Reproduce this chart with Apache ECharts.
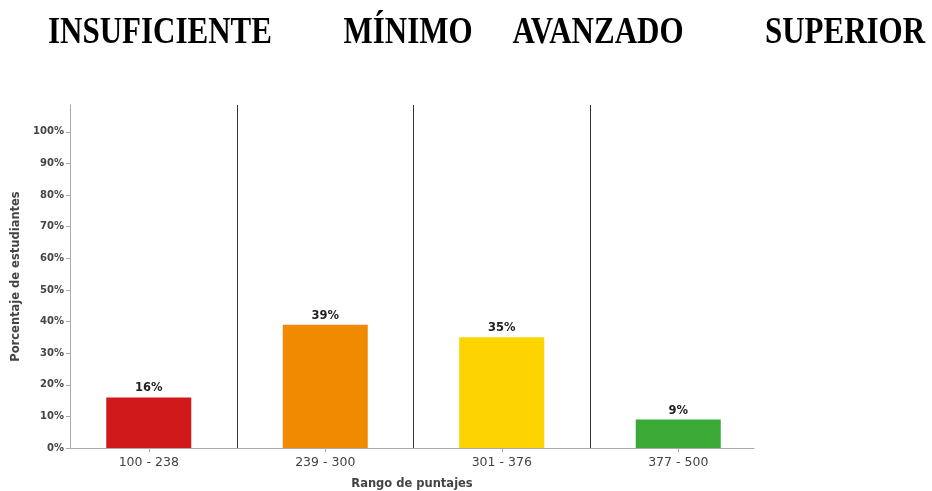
<!DOCTYPE html>
<html>
<head>
<meta charset="utf-8">
<script src="https://cdn.jsdelivr.net/npm/echarts@6/dist/echarts.min.js"></script>
<style>
  html, body { margin: 0; padding: 0; background: #fff; }
  #main { width: 932px; height: 491px; }
</style>
</head>
<body>
<div id="main"></div>
<script>
// niveles y rangos de puntaje
var niveles = ['INSUFICIENTE', 'MÍNIMO', 'AVANZADO', 'SUPERIOR'];
var rangos = ['100 - 238', '239 - 300', '301 - 376', '377 - 500'];
var porcentajes = [16, 39, 35, 9];
var colores = ['#d0191b', '#f08a00', '#fdd300', '#3aa935'];
var marcasY = [0, 10, 20, 30, 40, 50, 60, 70, 80, 90, 100];

var nivelX = [160, 408, 598, 845];

var myChart = echarts.init(document.getElementById('main'));

var titulos = niveles.map(function (t, i) {
    return {
        type: 'text',
        x: nivelX[i],
        y: 33,
        scaleY: 1.25,
        style: {
            text: t,
            font: 'bold 31px "Liberation Serif", "Times New Roman", serif',
            fill: '#000',
            textAlign: 'center',
            textVerticalAlign: 'middle'
        }
    };
});

myChart.setOption({
    animation: false,
    graphic: titulos,
    grid: [
        { left: 60.5, right: 165.5, top: 105, bottom: 43, outerBoundsMode: 'none', containLabel: false },
        { left: 70, right: 178, top: 105, bottom: 43, outerBoundsMode: 'none', containLabel: false }
    ],
    xAxis: [
        {
            type: 'category',
            gridIndex: 0,
            data: rangos,
            axisLine: { show: false },
            axisTick: { show: true, alignWithLabel: true, length: 4, lineStyle: { color: '#aaa' } },
            axisLabel: { color: '#444', fontSize: 12.5, fontFamily: 'DejaVu Sans', margin: 8 },
            splitLine: { show: true, showMinLine: false, showMaxLine: false, lineStyle: { color: '#333', width: 1 } }
        },
        {
            type: 'value',
            gridIndex: 1,
            min: 0, max: 1,
            axisLine: { show: true, lineStyle: { color: '#aaa' } },
            axisTick: { show: false },
            axisLabel: { show: false },
            splitLine: { show: false },
            name: 'Rango de puntajes',
            nameLocation: 'middle',
            nameGap: 30,
            nameTextStyle: { color: '#444', fontSize: 11.5, fontFamily: 'DejaVu Sans', fontWeight: 'bold' }
        }
    ],
    yAxis: [
        {
            type: 'value',
            gridIndex: 0,
            min: 0, max: 108.5,
            show: false
        },
        {
            type: 'value',
            gridIndex: 1,
            min: 0, max: 108.5,
            interval: 10,
            axisLine: { show: true, lineStyle: { color: '#aaa' } },
            axisTick: { show: true, length: 4, customValues: marcasY, lineStyle: { color: '#aaa' } },
            axisLabel: {
                customValues: marcasY,
                color: '#444', fontSize: 10, fontFamily: 'DejaVu Sans', fontWeight: 'bold', margin: 6,
                formatter: function (v) { return v <= 100 ? v + '%' : ''; }
            },
            splitLine: { show: false },
            name: 'Porcentaje de estudiantes',
            nameLocation: 'middle',
            nameGap: 45,
            nameTextStyle: { color: '#444', fontSize: 11.5, fontFamily: 'DejaVu Sans', fontWeight: 'bold' }
        }
    ],
    series: [
        {
            type: 'bar',
            xAxisIndex: 0,
            yAxisIndex: 0,
            barWidth: 85,
            data: porcentajes.map(function (v, i) {
                return { value: v, itemStyle: { color: colores[i] } };
            }),
            label: {
                show: true,
                position: 'top',
                distance: 3,
                formatter: '{c}%',
                color: '#222',
                fontSize: 11.5,
                fontWeight: 'bold',
                fontFamily: 'DejaVu Sans'
            }
        }
    ]
});
</script>
</body>
</html>
